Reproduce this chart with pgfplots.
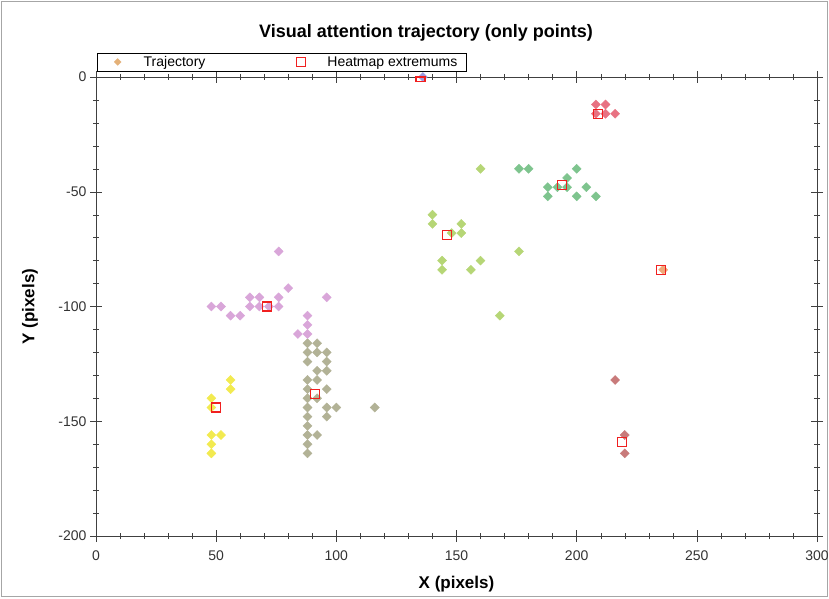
\documentclass[border=0pt]{standalone}
\usepackage{fontspec}
\setmainfont{Liberation Sans}
\usepackage{pgfplots}
\pgfplotsset{compat=1.18}
\definecolor{cyel}{HTML}{F2EA50}
\definecolor{coli}{HTML}{B2B296}
\definecolor{corc}{HTML}{D9A6D9}
\definecolor{clgr}{HTML}{B6D676}
\definecolor{cgrn}{HTML}{7EC48E}
\definecolor{credt}{HTML}{E87282}
\definecolor{credb}{HTML}{C87A7A}
\definecolor{cora}{HTML}{F0A878}
\definecolor{cblu}{HTML}{9A9AE0}
\definecolor{hred}{HTML}{F02020}
\pgfplotsset{
  traj/.style={forget plot, only marks, mark=square*, mark size=3.2pt, color=#1,
    mark options={rotate=45, draw=#1, fill=#1}},
  padimg/.style={legend image code/.code={\path[draw=none,fill=none] (-14pt,-5pt) rectangle (6pt,5pt);
    \draw[##1] plot coordinates {(0pt,0pt)};}},
}
\begin{document}
\begin{tikzpicture}[x=1pt,y=1pt]
\path[use as bounding box] (0,0) rectangle (829,598);
\draw[black!35] (1.5,1.5) rectangle (827.5,596.5);
\node[font=\bfseries\fontsize{18}{22}\selectfont] at (426,565) {Visual attention trajectory (only points)};
\begin{axis}[at={(96pt,62pt)}, anchor=south west, scale only axis,
  width=721pt, height=459pt,
  xmin=0, xmax=300, ymin=-200, ymax=0,
  xtick={0,50,...,300}, ytick={-200,-150,...,0},
  minor x tick num=4, minor y tick num=4,
  tick align=center, major tick length=12pt, minor tick length=6pt,
  axis line style={draw=black!75}, every tick/.style={black!75},
  ticklabel style={font=\fontsize{14}{16}\selectfont, text=black!80},
  xticklabel style={yshift=-5pt},
  /pgf/number format/assume math mode=true,
  clip mode=individual,
  xlabel={X (pixels)}, ylabel={Y (pixels)},
  label style={font=\bfseries\fontsize{17}{20}\selectfont},
  xlabel style={at={(axis description cs:0.5,-0.1046)}, anchor=center},
  ylabel style={at={(axis description cs:-0.0915,0.5)}, anchor=center},
  legend columns=2,
  legend style={at={(0,1)}, anchor=south west, xshift=1pt, yshift=6pt,
    font=\fontsize{14}{16}\selectfont, draw=black, inner ysep=1pt, inner xsep=6.5pt,
    /tikz/every odd column/.append style={column sep=18pt},
    /tikz/every even column/.append style={column sep=80pt}},
  legend cell align=left,
]
\addlegendimage{padimg, only marks, mark=square*, mark size=2.4pt, mark options={rotate=45, fill=cora!80!clgr, draw=cora!80!clgr}}
\addlegendentry{Trajectory}
\addlegendimage{padimg, only marks, mark=square, mark size=4.5pt, hred, line width=1.1pt}
\addlegendentry{Heatmap extremums}

\addplot[traj=cyel] coordinates {
(56,-132) (56,-136) (48,-140) (48,-144) (48,-156) (52,-156) (48,-160) (48,-164)};
\addplot[traj=coli] coordinates {
(88,-116) (92,-116) (88,-120) (92,-120) (96,-120) (88,-124) (96,-124)
(92,-128) (96,-128) (88,-132) (92,-132) (88,-136) (96,-136) (88,-140) (92,-140)
(88,-144) (96,-144) (100,-144) (116,-144) (88,-148) (96,-148) (88,-152)
(88,-156) (92,-156) (88,-160) (88,-164)};
\addplot[traj=corc] coordinates {
(76,-76) (80,-92) (64,-96) (68,-96) (76,-96) (96,-96) (48,-100) (52,-100)
(64,-100) (68,-100) (72,-100) (76,-100) (56,-104) (60,-104) (88,-104)
(88,-108) (84,-112) (88,-112)};
\addplot[traj=clgr] coordinates {
(160,-40) (140,-60) (140,-64) (152,-64) (148,-68) (152,-68) (176,-76)
(144,-80) (160,-80) (144,-84) (156,-84) (168,-104)};
\addplot[traj=cgrn] coordinates {
(176,-40) (180,-40) (200,-40) (196,-44) (188,-48) (192,-48) (196,-48)
(204,-48) (188,-52) (200,-52) (208,-52)};
\addplot[traj=credt] coordinates {
(208,-12) (212,-12) (208,-16) (212,-16) (216,-16)};
\addplot[traj=credb] coordinates {
(216,-132) (220,-156) (220,-164)};
\addplot[traj=cora] coordinates {(236,-84)};
\addplot[traj=cblu] coordinates {(136,0)};

\addplot[forget plot, draw=none, mark=none, nodes near coords={},
  every node near coord/.style={rectangle, draw=hred, fill=none, line width=1.1pt,
    minimum size=9pt, inner sep=0pt, anchor=center}] coordinates {
(209,-16) (194,-47) (146,-69) (235,-84) (71,-100) (91,-138) (50,-144) (219,-159)};
\addplot[forget plot, draw=none, mark=none, nodes near coords={},
  every node near coord/.style={rectangle, draw=hred, fill=none, line width=1.1pt,
    minimum width=9pt, minimum height=4.5pt, inner sep=0pt, anchor=north},
  every node near coord/.append style={yshift=0.55pt}] coordinates {(135,0)};
\end{axis}
\end{tikzpicture}
\end{document}
